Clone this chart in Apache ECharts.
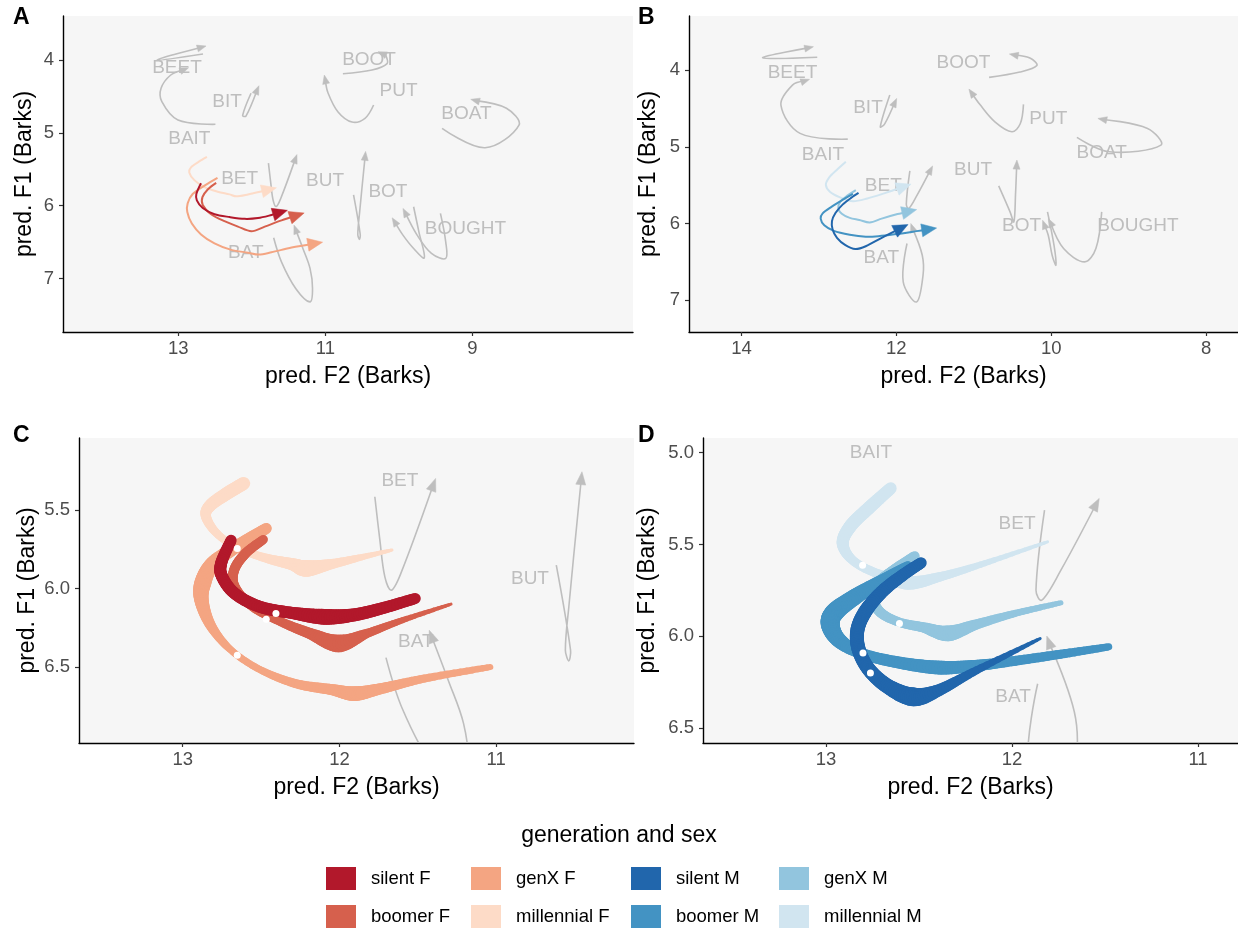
<!DOCTYPE html>
<html><head><meta charset="utf-8">
<script src="https://cdn.jsdelivr.net/npm/echarts@6/dist/echarts.min.js"></script>
<style>html,body{margin:0;padding:0;background:#fff}#c{width:1238px;height:930px}</style>
</head><body><div id="c"></div>
<script>
// ---------- DATA (pred. F2, pred. F1 in Barks) ----------
const vowelWords = ['BEET','BAIT','BIT','BOOT','PUT','BOAT','BET','BUT','BOT','BOUGHT','BAT'];

// female vowel trajectories
const F_BEET = [[12.664,3.918],[13.290,4.000],[12.623,3.808]];
const F_BAIT = [[12.495,4.883],[13.005,4.824],[13.224,4.573],[13.235,4.389],[13.103,4.206],[12.860,4.106]];
const F_BIT = [[12.011,4.457],[12.125,4.760],[12.080,4.770],[11.903,4.353]];
const F_BOOT = [[10.761,4.188],[10.365,4.137],[10.160,4.050],[10.180,3.930],[10.284,3.886]];
const F_PUT = [[10.343,4.618],[10.460,4.800],[10.637,4.852],[10.827,4.714],[10.963,4.453],[11.014,4.206]];
const F_BOAT = [[9.412,4.938],[8.827,5.205],[8.365,4.893],[8.536,4.663],[9.022,4.540]];
const F_BET = [[11.774,5.415],[11.742,5.690],[11.710,5.926],[11.669,6.011],[11.608,5.904],[11.386,5.298]];
const F_BUT = [[10.616,5.851],[10.525,6.394],[10.536,6.462],[10.558,6.394],[10.536,6.118],[10.452,5.255]];
const F_BOT = [[9.799,6.015],[9.727,6.359],[9.653,6.716],[9.799,6.587],[9.944,6.404],[10.091,6.166]];
const F_BOUGHT = [[9.434,6.106],[9.362,6.496],[9.362,6.724],[9.556,6.655],[9.751,6.404],[9.944,6.037]];
const F_BAT = [[11.703,6.441],[11.597,6.771],[11.403,7.136],[11.208,7.320],[11.174,7.136],[11.208,6.861],[11.305,6.587],[11.427,6.266]];

// male vowel trajectories
const M_BEET = [[13.021,3.834],[13.726,3.840],[13.070,3.696]];
const M_BAIT = [[12.627,4.900],[13.243,4.825],[13.490,4.456],[13.341,4.196],[13.120,4.121]];
const M_BIT = [[12.084,4.326],[12.207,4.739],[12.150,4.700],[11.995,4.369]];
const M_BOOT = [[10.802,4.095],[10.404,4.026],[10.185,3.941],[10.275,3.844],[10.540,3.791]];
const M_PUT = [[10.358,4.447],[10.400,4.700],[10.508,4.804],[10.727,4.674],[10.920,4.450],[11.063,4.248]];
const M_BOAT = [[9.668,4.877],[9.248,5.065],[8.583,4.978],[8.756,4.760],[9.397,4.630]];
const M_BET = [[11.825,5.313],[11.871,5.749],[11.840,5.804],[11.737,5.640],[11.531,5.249]];
const M_BUT = [[10.678,5.508],[10.530,5.850],[10.482,5.978],[10.460,5.600],[10.443,5.173]];
const M_BOT = [[10.048,5.847],[9.964,6.282],[9.939,6.542],[9.988,6.412],[10.038,6.151],[10.111,5.956]];
const M_BOUGHT = [[9.348,5.847],[9.423,6.325],[9.569,6.499],[9.840,6.325],[10.038,5.934]];
const M_BAT = [[11.862,6.259],[11.911,6.760],[11.739,7.021],[11.655,6.673],[11.665,6.412],[11.813,5.999]];

// BAT trajectories by generation and sex, with a per-point weight (ribbon thickness)
const silentF = [[12.691,5.692],[12.755,5.840],[12.748,5.926],[12.668,6.032],[12.508,6.117],[12.303,6.156],[12.098,6.181],[11.915,6.170],[11.733,6.128],[11.516,6.064]];
const silentF_w = [11,12,12,12,12,12,16,13,12,11];
const boomerF = [[12.485,5.687],[12.600,5.777],[12.672,5.883],[12.668,5.990],[12.554,6.117],[12.372,6.213],[12.189,6.287],[12.006,6.351],[11.824,6.287],[11.596,6.202],[11.288,6.100]];
const boomerF_w = [9,10,10,10,9,9,11,18,9,6,3];
const genXF = [[12.467,5.617],[12.633,5.717],[12.805,5.840],[12.873,5.968],[12.878,6.086],[12.816,6.245],[12.691,6.394],[12.508,6.517],[12.280,6.607],[12.052,6.645],[11.904,6.671],[11.733,6.639],[11.459,6.575],[11.037,6.501]];
const genXF_w = [11,12,15,17,14,10,7,7,9,11,15,11,8,6];
const millF = [[12.611,5.330],[12.725,5.398],[12.828,5.474],[12.851,5.543],[12.782,5.649],[12.645,5.745],[12.463,5.808],[12.303,5.845],[12.212,5.872],[12.052,5.845],[11.847,5.798],[11.665,5.755]];
const millF_w = [13,13,12,10,8,7,9,12,17,10,6,3];

const silentM = [[12.488,5.600],[12.580,5.662],[12.694,5.753],[12.786,5.862],[12.831,5.967],[12.823,6.076],[12.766,6.185],[12.662,6.277],[12.529,6.331],[12.395,6.295],[12.189,6.185],[11.849,6.013]];
const silentM_w = [11,12,13,14,14,14,14,15,19,12,8,3];
const boomerM = [[12.560,5.613],[12.683,5.685],[12.838,5.782],[12.951,5.867],[12.977,5.935],[12.930,6.022],[12.806,6.095],[12.601,6.145],[12.395,6.171],[12.231,6.164],[12.025,6.140],[11.737,6.098],[11.480,6.058]];
const boomerM_w = [8,11,16,19,19,15,11,12,14,12,10,9,7];
const genXM = [[12.523,5.564],[12.632,5.636],[12.720,5.712],[12.749,5.794],[12.704,5.873],[12.601,5.925],[12.477,5.952],[12.344,5.985],[12.189,5.935],[11.984,5.876],[11.737,5.818]];
const genXM_w = [10,10,11,11,10,9,10,16,10,7,5];
const millM = [[12.652,5.194],[12.766,5.298],[12.868,5.400],[12.910,5.494],[12.858,5.585],[12.734,5.655],[12.560,5.709],[12.375,5.673],[12.148,5.603],[11.809,5.486]];
const millM_w = [12,13,13,12,9,9,14,9,6,3];

// marked time points on the trajectories
const dotsF = [[12.652,5.745],[12.405,6.160],[12.467,6.196],[12.652,6.426]];
const dotsM = [[12.803,5.613],[12.605,5.931],[12.801,6.091],[12.761,6.200]];

// word labels [text, F2, F1]
const labelsA = [['BEET',13.018,4.110],['BAIT',12.850,5.085],['BIT',12.337,4.573],['BOOT',10.405,3.990],['PUT',10.003,4.422],['BOAT',9.080,4.742],['BET',12.166,5.625],['BUT',11.004,5.658],['BOT',10.148,5.809],['BOUGHT',9.094,6.312],['BAT',12.083,6.641]];
const labelsB = [['BEET',13.341,4.030],['BAIT',12.947,5.099],['BIT',12.366,4.486],['BOOT',11.132,3.905],['PUT',10.037,4.630],['BOAT',9.348,5.073],['BET',12.168,5.508],['BUT',11.009,5.304],['BOT',10.382,6.030],['BOUGHT',8.880,6.030],['BAT',12.193,6.442]];
const labelsC = [['BET',11.614,5.315],['BUT',10.784,5.941],['BAT',11.512,6.340]];
const labelsD = [['BAIT',12.758,5.002],['BET',11.973,5.389],['BAT',11.994,6.331]];

// tick values
const ticksA_x = [9,11,13], ticksA_y = [4,5,6,7];
const ticksB_x = [8,10,12,14], ticksB_y = [4,5,6,7];
const ticksC_x = [11,12,13], ticksC_y = [5.5,6.0,6.5];
const ticksD_x = [11,12,13], ticksD_y = [5.0,5.5,6.0,6.5];

// ---------- RENDERING ----------
const FONT = '"Liberation Sans", Arial, sans-serif';
const GRAY = '#bebebe';
const COL = {'silent F':'#b2182b','boomer F':'#d6604d','genX F':'#f4a582','millennial F':'#fddbc7',
             'silent M':'#2166ac','boomer M':'#4393c3','genX M':'#92c5de','millennial M':'#d1e5f0'};
const trajF = [F_BEET,F_BAIT,F_BIT,F_BOOT,F_PUT,F_BOAT,F_BET,F_BUT,F_BOT,F_BOUGHT,F_BAT];
const trajM = [M_BEET,M_BAIT,M_BIT,M_BOOT,M_PUT,M_BOAT,M_BET,M_BUT,M_BOT,M_BOUGHT,M_BAT];
const groupsF = [['millennial F',millF,millF_w],['genX F',genXF,genXF_w],['boomer F',boomerF,boomerF_w],['silent F',silentF,silentF_w]];
const groupsM = [['millennial M',millM,millM_w],['genX M',genXM,genXM_w],['boomer M',boomerM,boomerM_w],['silent M',silentM,silentM_w]];

function buildArrow(pts, o, color) {
  const n = pts.length, tip = pts[n-1], prev = pts[n-2];
  let dx = tip[0]-prev[0], dy = tip[1]-prev[1];
  const d = Math.hypot(dx,dy) || 1; dx /= d; dy /= d;
  const nx = -dy, ny = dx;
  const base = [tip[0]-dx*o.len, tip[1]-dy*o.len];
  const linePts = pts.slice(0,n-1).concat([[tip[0]-dx*o.len*0.6, tip[1]-dy*o.len*0.6]]);
  return {type:'group', children:[
    {type:'polyline', shape:{points:linePts, smooth:o.smooth}, style:{stroke:color, lineWidth:o.lw, fill:null, lineJoin:'round'}},
    {type:'polygon', shape:{points:[tip,[base[0]+nx*o.hw,base[1]+ny*o.hw],[base[0]-nx*o.hw,base[1]-ny*o.hw]]}, style:{fill:color, stroke:color, lineWidth:0.5}}
  ]};
}
function catmull(pts, ws, seg) {
  const out = [], ow = [], L = pts.length;
  for (let i = 0; i < L-1; i++) {
    const p0 = pts[Math.max(i-1,0)], p1 = pts[i], p2 = pts[i+1], p3 = pts[Math.min(i+2,L-1)];
    for (let k = 0; k < seg; k++) {
      const t = k/seg, t2 = t*t, t3 = t2*t;
      const f = (a,b,c,e) => 0.5*((2*b) + (-a+c)*t + (2*a-5*b+4*c-e)*t2 + (-a+3*b-3*c+e)*t3);
      out.push([f(p0[0],p1[0],p2[0],p3[0]), f(p0[1],p1[1],p2[1],p3[1])]);
      ow.push(ws[i] + (ws[i+1]-ws[i])*t);
    }
  }
  out.push(pts[L-1]); ow.push(ws[L-1]);
  return {out, ow};
}
function graySeries(trajs, gi, o) {
  return {type:'custom', coordinateSystem:'cartesian2d', xAxisIndex:gi, yAxisIndex:gi, clip:true, silent:true, z:2,
    data: trajs.map(t => t[0]),
    renderItem: (p, api) => buildArrow(trajs[p.dataIndex].map(q => api.coord(q)), o, GRAY)};
}
function labelSeries(labels, gi) {
  return {type:'custom', coordinateSystem:'cartesian2d', xAxisIndex:gi, yAxisIndex:gi, clip:true, silent:true, z:3,
    data: labels.map(l => [l[1], l[2]]),
    renderItem: (p, api) => {
      const c = api.coord([labels[p.dataIndex][1], labels[p.dataIndex][2]]);
      return {type:'text', x:c[0], y:c[1], style:{text:labels[p.dataIndex][0], fill:GRAY, font:'19px '+FONT, align:'center', verticalAlign:'middle'}};
    }};
}
function arrowSeries(g, gi) {
  const [name, traj] = g, color = COL[name];
  return {type:'custom', name, coordinateSystem:'cartesian2d', xAxisIndex:gi, yAxisIndex:gi, clip:true, silent:true, z:4,
    itemStyle:{color}, data:[traj[0]],
    renderItem: (p, api) => buildArrow(traj.map(q => api.coord(q)), {lw:2, len:15, hw:6.5, smooth:0.3}, color)};
}
function ribbonSeries(g, gi) {
  const [name, traj, ws] = g, color = COL[name];
  return {type:'custom', name, coordinateSystem:'cartesian2d', xAxisIndex:gi, yAxisIndex:gi, clip:true, silent:true, z:4,
    itemStyle:{color}, data:[traj[0]],
    renderItem: (p, api) => {
      const {out, ow} = catmull(traj.map(q => api.coord(q)), ws, 12);
      const children = [];
      for (let j = 0; j < out.length-1; j++) {
        children.push({type:'line', shape:{x1:out[j][0],y1:out[j][1],x2:out[j+1][0],y2:out[j+1][1]},
          style:{stroke:color, lineWidth:(ow[j]+ow[j+1])/2, lineCap:'round'}});
      }
      return {type:'group', children};
    }};
}
function xAx(gi, min, max, ticks, fmt) {
  return {type:'value', gridIndex:gi, min, max, inverse:true, name:'pred. F2 (Barks)', nameLocation:'middle', nameGap:33,
    nameTextStyle:{fontSize:23, color:'#000', fontFamily:FONT},
    axisLine:{show:true, onZero:false, lineStyle:{color:'#000', width:1.4}},
    axisTick:{show:true, length:4, customValues:ticks, lineStyle:{color:'#333', width:1.2}},
    axisLabel:{customValues:ticks, color:'#4d4d4d', fontSize:18.5, margin:7, fontFamily:FONT, formatter: v => fmt ? (+v).toFixed(1) : String(v)},
    splitLine:{show:false}};
}
function yAx(gi, min, max, ticks, fmt, gap) {
  return {type:'value', gridIndex:gi, min, max, inverse:true, name:'pred. F1 (Barks)', nameLocation:'middle', nameGap:gap,
    nameTextStyle:{fontSize:23, color:'#000', fontFamily:FONT},
    axisLine:{show:true, onZero:false, lineStyle:{color:'#000', width:1.4}},
    axisTick:{show:true, length:4, customValues:ticks, lineStyle:{color:'#333', width:1.2}},
    axisLabel:{customValues:ticks, color:'#4d4d4d', fontSize:18.5, margin:9, fontFamily:FONT, formatter: v => fmt ? (+v).toFixed(1) : String(v)},
    splitLine:{show:false}};
}
const gridBase = {show:true, backgroundColor:'#f6f6f6', borderWidth:0, containLabel:false};
const series = [];
// Panel A
series.push(graySeries(trajF, 0, {lw:1.6, len:9, hw:3.5, smooth:0.35}));
series.push(labelSeries(labelsA, 0));
groupsF.forEach(g => series.push(arrowSeries(g, 0)));
// Panel B
series.push(graySeries(trajM, 1, {lw:1.6, len:9, hw:3.5, smooth:0.35}));
series.push(labelSeries(labelsB, 1));
groupsM.forEach(g => series.push(arrowSeries(g, 1)));
// Panel C
series.push(graySeries(trajF, 2, {lw:1.6, len:13, hw:5, smooth:0.35}));
series.push(labelSeries(labelsC, 2));
groupsF.forEach(g => series.push(ribbonSeries(g, 2)));
series.push({type:'scatter', xAxisIndex:2, yAxisIndex:2, data:dotsF, symbolSize:7, itemStyle:{color:'#fff', opacity:1}, z:6, silent:true});
// Panel D
series.push(graySeries(trajM, 3, {lw:1.6, len:13, hw:5, smooth:0.35}));
series.push(labelSeries(labelsD, 3));
groupsM.forEach(g => series.push(ribbonSeries(g, 3)));
series.push({type:'scatter', xAxisIndex:3, yAxisIndex:3, data:dotsM, symbolSize:7, itemStyle:{color:'#fff', opacity:1}, z:6, silent:true});

// legend: one entry per block, laid out in two rows of four
const legendNames = [['silent F','boomer F'],['genX F','millennial F'],['silent M','boomer M'],['genX M','millennial M']];
const legendCols = [321, 466, 626, 774], legendRows = [862, 900];
const legends = [];
legendNames.forEach((col, ci) => col.forEach((nm, ri) => legends.push({
  data:[nm], left:legendCols[ci], top:legendRows[ri], itemWidth:30, itemHeight:23, icon:'rect', selectedMode:false,
  textStyle:{fontSize:18.5, color:'#000', fontFamily:FONT, padding:[0,0,0,10]}
})));

const option = {
  animation:false,
  textStyle:{fontFamily:FONT},
  grid:[
    Object.assign({left:63, top:16, width:570, height:316}, gridBase),
    Object.assign({left:689, top:16, width:549, height:316}, gridBase),
    Object.assign({left:79, top:438, width:555, height:305}, gridBase),
    Object.assign({left:703, top:438, width:535, height:305}, gridBase)
  ],
  xAxis:[xAx(0,6.814,14.569,ticksA_x,false), xAx(1,7.588,14.677,ticksB_x,false), xAx(2,10.120,13.662,ticksC_x,false), xAx(3,10.785,13.661,ticksD_x,false)],
  yAxis:[yAx(0,3.396,7.734,ticksA_y,false,27), yAx(1,3.296,7.412,ticksB_y,false,29), yAx(2,5.040,6.986,ticksC_y,true,40), yAx(3,4.920,6.582,ticksD_y,true,44)],
  legend: legends,
  graphic:[
    {type:'text', left:13, top:6, style:{text:'A', font:'bold 23px '+FONT, fill:'#000'}},
    {type:'text', left:638, top:6, style:{text:'B', font:'bold 23px '+FONT, fill:'#000'}},
    {type:'text', left:13, top:424, style:{text:'C', font:'bold 23px '+FONT, fill:'#000'}},
    {type:'text', left:638, top:424, style:{text:'D', font:'bold 23px '+FONT, fill:'#000'}},
    {type:'text', left:'center', top:824, style:{text:'generation and sex', font:'23px '+FONT, fill:'#000'}}
  ],
  series
};
const chart = echarts.init(document.getElementById('c'));
chart.setOption(option);
</script></body></html>
